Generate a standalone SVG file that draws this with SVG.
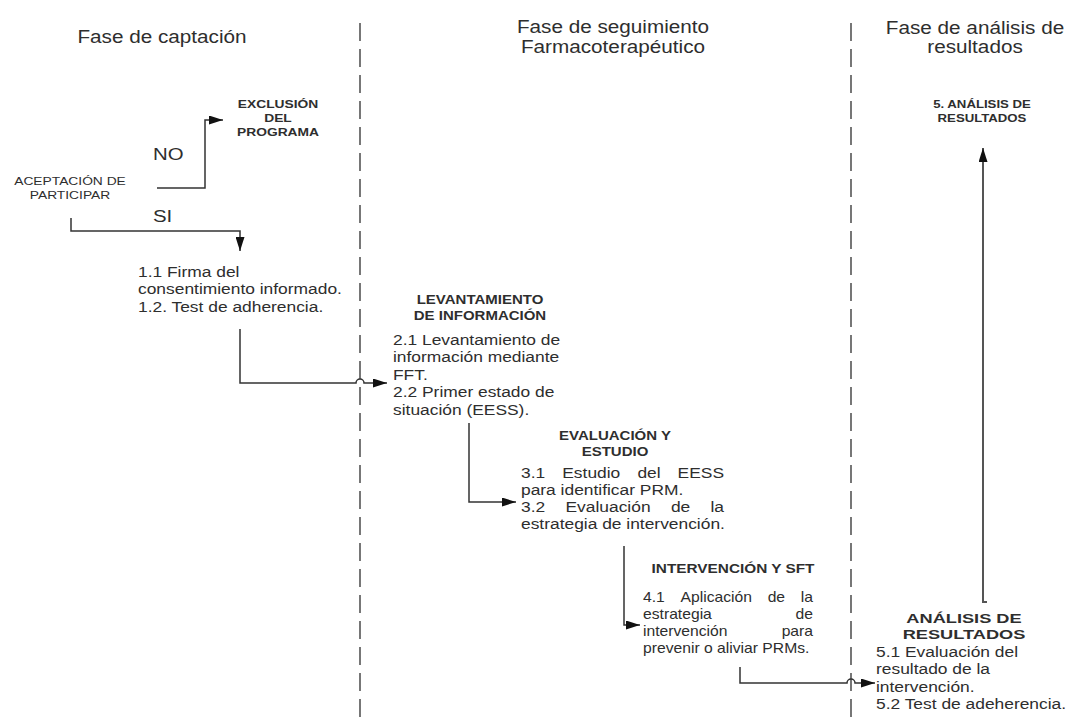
<svg xmlns="http://www.w3.org/2000/svg" width="1069" height="718" viewBox="0 0 1069 718">
<style>
text{font-family:"Liberation Sans",Arial,sans-serif;fill:#2e2e2e}
.t{font-size:18.5px}
.b{font-size:14.5px}
.b4{font-size:14px}
.h{font-size:12.5px;font-weight:bold}
.hs{font-size:11.5px;font-weight:bold}
.s{font-size:11.5px}
.lbl{font-size:17px}
.lane{stroke:#555;stroke-width:1.6;stroke-dasharray:18 8;fill:none}
.c{stroke:#333;stroke-width:1.5;fill:none;marker-end:url(#ah)}
</style>
<defs>
<marker id="ah" markerUnits="userSpaceOnUse" markerWidth="14" markerHeight="9" refX="14" refY="4.5" orient="auto">
<path d="M0,0 L14,4.5 L0,9 z" fill="#111"/>
</marker>
</defs>
<rect width="1069" height="718" fill="#fff"/>
<g id="lanes">
<line class="lane" x1="360" y1="23" x2="360" y2="718"/>
<line class="lane" x1="851" y1="23" x2="851" y2="718"/>
</g>
<g id="titles">
<text class="t" text-anchor="middle" transform="translate(162,43) scale(1.12,1)">Fase de captación</text>
<text class="t" text-anchor="middle" transform="translate(613,33) scale(1.12,1)"><tspan x="0">Fase de seguimiento</tspan><tspan x="0" dy="20">Farmacoterapéutico</tspan></text>
<text class="t" text-anchor="middle" transform="translate(975,34) scale(1.12,1)"><tspan x="0">Fase de análisis de</tspan><tspan x="0" dy="19.5">resultados</tspan></text>
</g>
<g id="connectors">
<path class="c" d="M157,188 H205 V120 H223"/>
<path class="c" d="M71,218 V231 H240 V251"/>
<path class="c" d="M240,329 V383 H356 a4,4 0 0 1 8,0 H387"/>
<path class="c" d="M469,423 V502 H516"/>
<path class="c" d="M624,546 V625 H640"/>
<path class="c" d="M740,667 V683 H847 a4,4 0 0 1 8,0 H875"/>
<path class="c" d="M987,602 H983 V148" style="stroke:#555;stroke-width:2"/>
</g>
<g id="aceptacion">
<text class="s" text-anchor="middle" transform="translate(70,185) scale(1.2,1)"><tspan x="0">ACEPTACIÓN DE</tspan><tspan x="0" dy="14">PARTICIPAR</tspan></text>
</g>
<g id="label-no"><text class="lbl" transform="translate(153,160) scale(1.2,1)">NO</text></g>
<g id="label-si"><text class="lbl" transform="translate(153,222) scale(1.2,1)">SI</text></g>
<g id="exclusion">
<text class="hs" text-anchor="middle" transform="translate(278,108) scale(1.2,1)"><tspan x="0">EXCLUSIÓN</tspan><tspan x="0" dy="14">DEL</tspan><tspan x="0" dy="14">PROGRAMA</tspan></text>
</g>
<g id="paso1">
<text class="b" transform="translate(138,277) scale(1.2,1)"><tspan x="0">1.1 Firma del</tspan><tspan x="0" dy="17.5">consentimiento informado.</tspan><tspan x="0" dy="17.5">1.2. Test de adherencia.</tspan></text>
</g>
<g id="paso2">
<text class="h" text-anchor="middle" transform="translate(480,304) scale(1.2,1)"><tspan x="0">LEVANTAMIENTO</tspan><tspan x="0" dy="16">DE INFORMACIÓN</tspan></text>
<text class="b" transform="translate(393,345) scale(1.2,1)"><tspan x="0">2.1 Levantamiento de</tspan><tspan x="0" dy="17.5">información mediante</tspan><tspan x="0" dy="17.5">FFT.</tspan><tspan x="0" dy="17.5">2.2 Primer estado de</tspan><tspan x="0" dy="17.5">situación (EESS).</tspan></text>
</g>
<g id="paso3">
<text class="h" text-anchor="middle" transform="translate(615,440) scale(1.2,1)"><tspan x="0">EVALUACIÓN Y</tspan><tspan x="0" dy="16">ESTUDIO</tspan></text>
<text class="b" transform="translate(521,478) scale(1.2,1)"><tspan x="0">3.1</tspan><tspan x="34.4">Estudio</tspan><tspan x="97">del</tspan><tspan x="130.5">EESS</tspan><tspan x="0" dy="17">para identificar PRM.</tspan><tspan x="0" dy="17">3.2</tspan><tspan x="37.1">Evaluación</tspan><tspan x="124.9">de</tspan><tspan x="157.9">la</tspan><tspan x="0" dy="17">estrategia de intervención.</tspan></text>
</g>
<g id="paso4">
<text class="h" text-anchor="middle" transform="translate(733,573) scale(1.2,1)" style="font-size:12.8px">INTERVENCIÓN Y SFT</text>
<text class="b4" transform="translate(643,602) scale(1.12,1)"><tspan x="0">4.1</tspan><tspan x="33.5">Aplicación</tspan><tspan x="111.3">de</tspan><tspan x="140.9">la</tspan><tspan x="0" dy="17">estrategia</tspan><tspan x="136.2">de</tspan><tspan x="0" dy="17">intervención</tspan><tspan x="123.8">para</tspan><tspan x="0" dy="17">prevenir o aliviar PRMs.</tspan></text>
</g>
<g id="paso5">
<text class="h" text-anchor="middle" transform="translate(964,623) scale(1.35,1)" style="font-size:13.5px"><tspan x="0">ANÁLISIS DE</tspan><tspan x="0" dy="16">RESULTADOS</tspan></text>
<text class="b" transform="translate(876,657) scale(1.2,1)"><tspan x="0">5.1 Evaluación del</tspan><tspan x="0" dy="17.5">resultado de la</tspan><tspan x="0" dy="17.5">intervención.</tspan><tspan x="0" dy="17.5">5.2 Test de adeherencia.</tspan></text>
</g>
<g id="resultado-final">
<text class="hs" text-anchor="middle" transform="translate(982,108) scale(1.2,1)" style="font-size:11px"><tspan x="0">5. ANÁLISIS DE</tspan><tspan x="0" dy="14">RESULTADOS</tspan></text>
</g>
</svg>
